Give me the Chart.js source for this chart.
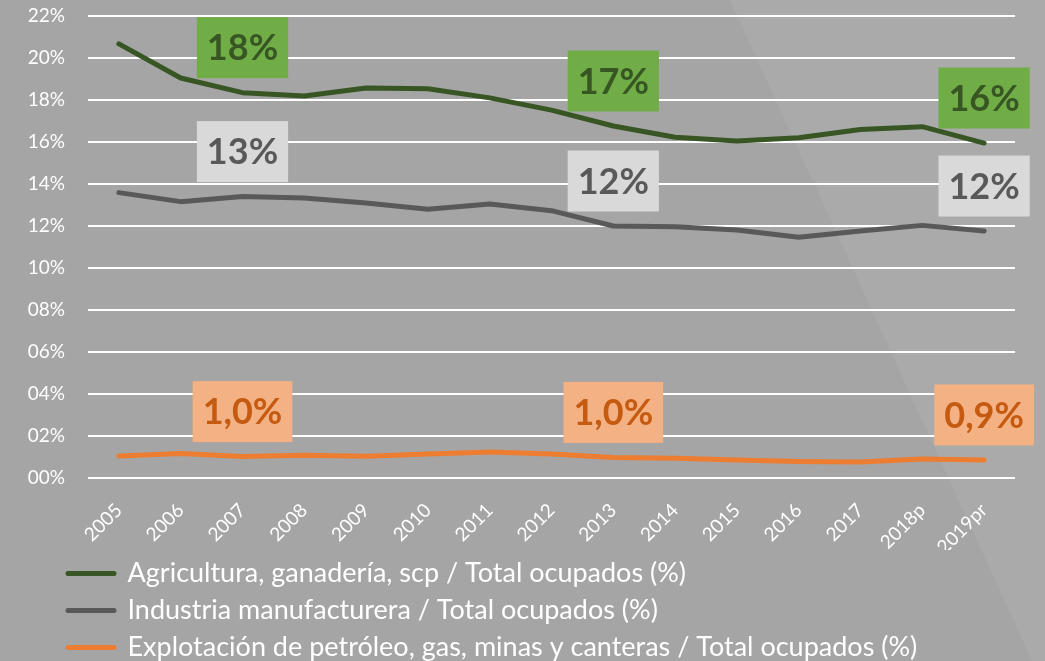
<!DOCTYPE html>
<html><head><meta charset="utf-8">
<script src="https://cdn.jsdelivr.net/npm/chart.js@4.4.1/dist/chart.umd.min.js"></script>
<style>html,body{margin:0;padding:0;background:#a5a5a5;overflow:hidden;}</style>
</head><body>
<canvas id="c" width="1045" height="661"></canvas>
<script>
const categories = ['2005','2006','2007','2008','2009','2010','2011','2012','2013','2014','2015','2016','2017','2018p','2019pr'];
const agricultura = [20.67,19.05,18.35,18.19,18.57,18.54,18.10,17.52,16.76,16.23,16.05,16.20,16.60,16.73,15.95];
const industria   = [13.59,13.16,13.40,13.33,13.10,12.80,13.05,12.73,12.00,11.97,11.81,11.46,11.76,12.03,11.76];
const petroleo    = [1.05,1.17,1.02,1.08,1.03,1.14,1.24,1.14,0.98,0.94,0.86,0.78,0.76,0.90,0.86];
const seriesNames = [
  'Agricultura, ganadería, scp / Total ocupados (%)',
  'Industria manufacturera / Total ocupados (%)',
  'Explotación de petróleo, gas, minas y canteras / Total ocupados (%)'
];
const yTicks = [0,2,4,6,8,10,12,14,16,18,20,22];
const labelIndices = [2,8,14];
const labelDecimals = [0,0,1];

const lineColors = ['#375623','#595959','#ed7d31'];
const boxColors  = ['#70ad47','#d9d9d9','#f4b183'];
const textColors = ['#375623','#595959','#c55a11'];

const bgPlugin = {
  id: 'bg',
  beforeDraw(chart) {
    const {ctx, width, height} = chart;
    ctx.save();
    ctx.fillStyle = '#a5a5a5';
    ctx.fillRect(0,0,width,height);
    ctx.fillStyle = '#aaaaaa';
    ctx.beginPath();
    ctx.moveTo(730,0); ctx.lineTo(width,0); ctx.lineTo(width,height); ctx.lineTo(1032,height);
    ctx.closePath(); ctx.fill();
    ctx.restore();
  }
};

const legendShift = {
  id: 'legendShift',
  afterLayout(chart) {
    const lg = chart.legend;
    if (!lg) return;
    lg.left += 58; lg.right += 58;
  }
};

const labelPlugin = {
  id: 'boxLabels',
  afterDatasetsDraw(chart) {
    const ctx = chart.ctx;
    ctx.save();
    ctx.font = 'bold 36px Lato';
    ctx.textAlign = 'center';
    ctx.textBaseline = 'middle';
    chart.data.datasets.forEach((ds, di) => {
      const meta = chart.getDatasetMeta(di);
      labelIndices.forEach(idx => {
        const pt = meta.data[idx];
        const txt = ds.data[idx].toFixed(labelDecimals[di]).replace('.', ',') + '%';
        const w = ctx.measureText(txt).width + 20;
        const h = 61;
        const cx = pt.x, cy = pt.y - 45;
        ctx.fillStyle = boxColors[di];
        ctx.fillRect(cx - w/2, cy - h/2, w, h);
        ctx.fillStyle = textColors[di];
        ctx.fillText(txt, cx, cy + 1);
      });
    });
    ctx.restore();
  }
};

const datasets = [agricultura, industria, petroleo].map((d, i) => ({
  label: seriesNames[i],
  data: d,
  borderColor: lineColors[i],
  backgroundColor: lineColors[i],
  borderWidth: 5,
  pointRadius: 0,
  tension: 0,
  borderCapStyle: 'round',
  borderJoinStyle: 'round',
  fill: false
}));

new Chart(document.getElementById('c'), {
  type: 'line',
  data: { labels: categories, datasets },
  options: {
    responsive: false,
    animation: false,
    layout: { padding: { left: 0, right: 30, top: 16, bottom: -10 } },
    plugins: {
      legend: {
        position: 'bottom',
        align: 'start',
        labels: {
          usePointStyle: true,
          pointStyle: 'line',
          pointStyleWidth: 46,
          boxHeight: 5,
          padding: 10,
          color: '#ffffff',
          font: { family: 'Lato', size: 27 },
          generateLabels(chart) {
            return chart.data.datasets.map((ds, i) => ({
              text: ds.label,
              strokeStyle: lineColors[i],
              fillStyle: lineColors[i],
              lineWidth: 5,
              lineCap: 'round',
              pointStyle: 'line',
              fontColor: '#ffffff',
              hidden: false,
              datasetIndex: i
            }));
          }
        }
      },
      tooltip: { enabled: false }
    },
    scales: {
      x: {
        offset: true,
        afterFit(s) { s.height = 72; },
        grid: { display: false, drawTicks: false },
        border: { display: false },
        ticks: {
          color: '#ffffff',
          font: { family: 'Lato', size: 19 },
          maxRotation: 45, minRotation: 45,
          padding: 21,
          autoSkip: false
        }
      },
      y: {
        min: 0, max: 22,
        afterBuildTicks(s) { s.ticks = yTicks.map(v => ({ value: v })); },
        afterFit(s) { s.width = 88; s.paddingTop = 0; s.paddingBottom = 0; },
        grid: { color: '#ffffff', lineWidth: 2, drawTicks: false },
        border: { display: false },
        ticks: {
          color: '#ffffff',
          font: { family: 'Lato', size: 19 },
          padding: 23,
          callback: v => String(v).padStart(2, '0') + '%'
        }
      }
    }
  },
  plugins: [bgPlugin, legendShift, labelPlugin]
});
</script>
</body></html>
